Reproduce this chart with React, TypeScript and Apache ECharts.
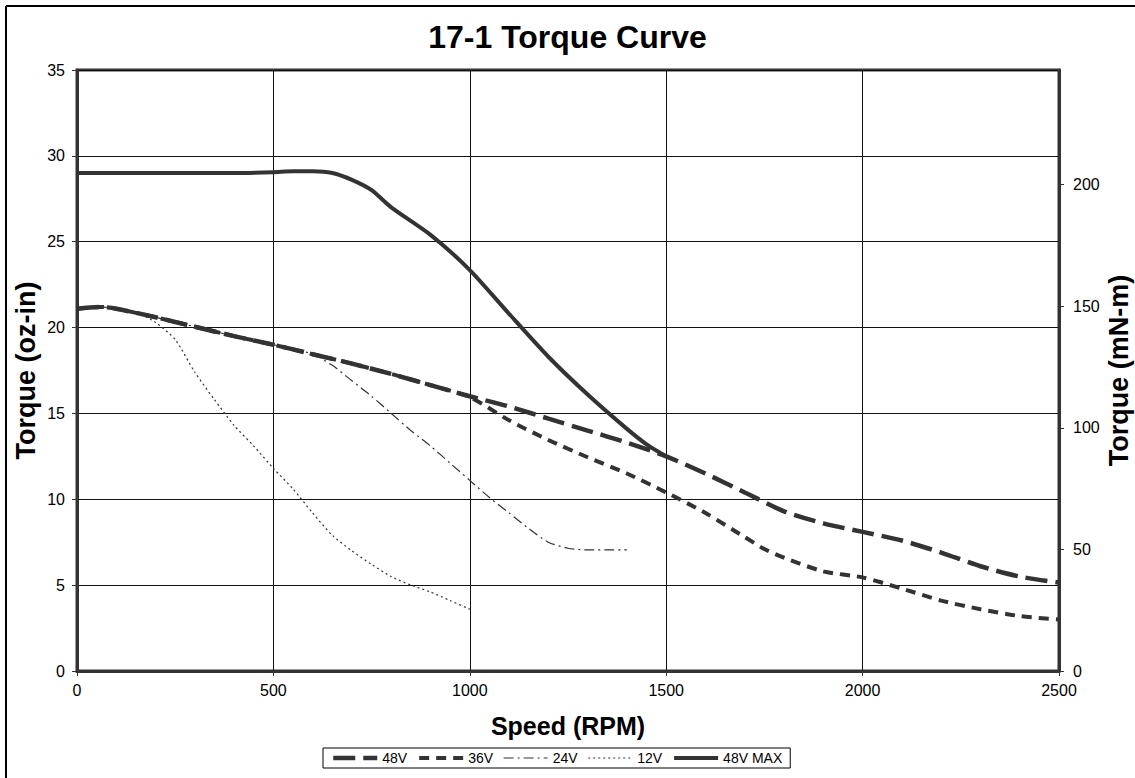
import React, { useEffect, useRef } from "react";
import * as echarts from "echarts";

const FONT = "'Liberation Sans', Arial, sans-serif";
const LINE_COLOR = "#333333";
const OZIN_TO_MNM = 7.0616;

const titleText = "17-1 Torque Curve";
const xTicks = [0, 500, 1000, 1500, 2000, 2500];

const seriesNames = ["48V", "36V", "24V", "12V", "48V MAX"];

const v48: number[][] = [
  [0, 21.1], [60, 21.2], [100, 21.1], [200, 20.6], [300, 20.05], [400, 19.5],
  [500, 19.0], [600, 18.45], [700, 17.9], [800, 17.3], [900, 16.65], [1000, 16.0],
  [1100, 15.4], [1200, 14.7], [1300, 14.0], [1400, 13.3], [1500, 12.5], [1600, 11.5],
  [1700, 10.4], [1800, 9.3], [1900, 8.6], [2000, 8.1], [2100, 7.6], [2200, 6.9],
  [2300, 6.1], [2400, 5.5], [2500, 5.15],
];

const v36: number[][] = [
  [0, 21.1], [60, 21.2], [100, 21.1], [200, 20.6], [300, 20.05], [400, 19.5],
  [500, 19.0], [600, 18.45], [700, 17.9], [800, 17.3], [900, 16.65], [1000, 15.95],
  [1100, 14.6], [1200, 13.45], [1300, 12.45], [1400, 11.5], [1500, 10.4], [1600, 9.2],
  [1700, 7.8], [1750, 7.1], [1800, 6.6], [1900, 5.8], [2000, 5.45], [2100, 4.8],
  [2200, 4.1], [2300, 3.6], [2400, 3.2], [2500, 3.0],
];

const v24: number[][] = [
  [0, 21.1], [60, 21.2], [100, 21.1], [200, 20.6], [300, 20.05], [400, 19.5],
  [500, 19.0], [600, 18.45], [650, 17.8], [700, 16.9], [750, 16.0], [800, 15.0],
  [850, 14.0], [900, 13.1], [950, 12.1], [1000, 11.1], [1050, 10.1], [1100, 9.2],
  [1150, 8.3], [1200, 7.5], [1250, 7.15], [1300, 7.05], [1350, 7.05], [1400, 7.05],
];

const v12: number[][] = [
  [0, 21.1], [60, 21.2], [100, 21.1], [150, 20.9], [200, 20.3], [250, 19.3],
  [300, 17.4], [350, 15.8], [400, 14.3], [450, 13.1], [500, 11.8], [550, 10.6],
  [600, 9.2], [650, 7.9], [700, 7.0], [750, 6.2], [800, 5.5], [850, 5.0],
  [900, 4.6], [950, 4.1], [1000, 3.6],
];

const v48max: number[][] = [
  [0, 29.0], [100, 29.0], [200, 29.0], [300, 29.0], [400, 29.0], [500, 29.05],
  [550, 29.1], [600, 29.1], [650, 29.0], [700, 28.6], [750, 28.0], [800, 27.0],
  [900, 25.4], [1000, 23.35], [1100, 20.8], [1200, 18.3], [1300, 16.1], [1400, 14.1],
  [1450, 13.2], [1500, 12.5],
];

export default function App() {
  const ref = useRef<HTMLDivElement>(null);

  useEffect(() => {
    if (!ref.current) return;
    const chart = echarts.init(ref.current, undefined, { renderer: "svg" });

    const mk = (name: string, data: number[][], width: number, type: any, z: number) => ({
      name,
      type: "line",
      data,
      smooth: 0.25,
      symbol: "none",
      showSymbol: false,
      yAxisIndex: 0,
      z,
      lineStyle: { color: LINE_COLOR, width, type },
      itemStyle: { color: LINE_COLOR },
      emphasis: { disabled: true },
    });

    const plainNum = (v: number) => String(Math.round(v));

    chart.setOption({
      animation: false,
      backgroundColor: "#ffffff",
      textStyle: { fontFamily: FONT },
      title: {
        text: titleText,
        left: "center",
        top: 16,
        textStyle: { fontSize: 32, fontWeight: "bold", color: "#000", fontFamily: FONT },
      },
      grid: {
        left: 77,
        right: 76,
        top: 70,
        bottom: 107,
        containLabel: false,
        outerBoundsMode: "none",
        show: true,
        borderColor: LINE_COLOR,
        borderWidth: 3,
        backgroundColor: "transparent",
      },
      legend: {
        data: seriesNames,
        left: 323,
        top: 748,
        orient: "horizontal",
        itemWidth: 44,
        itemHeight: 12,
        itemGap: 10,
        padding: [3, 8],
        borderColor: "#000",
        borderWidth: 1,
        itemStyle: { color: "rgba(0,0,0,0)", borderColor: "rgba(0,0,0,0)", borderWidth: 0, opacity: 0 },
        lineStyle: { width: "inherit" },
        textStyle: { fontSize: 14, color: "#000", fontFamily: FONT },
      },
      xAxis: {
        type: "value",
        min: xTicks[0],
        max: xTicks[xTicks.length - 1],
        interval: 500,
        name: "Speed (RPM)",
        nameLocation: "middle",
        nameGap: 42,
        nameMoveOverlap: false,
        nameTextStyle: { fontSize: 25, fontWeight: "bold", color: "#000", fontFamily: FONT },
        axisLine: { show: true, lineStyle: { color: LINE_COLOR, width: 3 } },
        axisTick: { show: true, length: 5, lineStyle: { color: LINE_COLOR, width: 1 } },
        axisLabel: { fontSize: 16, color: "#000", margin: 11, fontFamily: FONT, formatter: plainNum },
        splitLine: { show: true, lineStyle: { color: "#111", width: 1 } },
      },
      yAxis: [
        {
          type: "value",
          position: "left",
          min: 0,
          max: 35,
          interval: 5,
          name: "Torque (oz-in)",
          nameLocation: "middle",
          nameGap: 38,
          nameMoveOverlap: false,
          nameTextStyle: { fontSize: 27, fontWeight: "bold", color: "#000", fontFamily: FONT },
          axisLine: { show: true, lineStyle: { color: LINE_COLOR, width: 3 } },
          axisTick: { show: true, length: 5, lineStyle: { color: LINE_COLOR, width: 1 } },
          axisLabel: { fontSize: 16, color: "#000", margin: 12, fontFamily: FONT, formatter: plainNum },
          splitLine: { show: true, lineStyle: { color: "#111", width: 1 } },
        },
        {
          type: "value",
          position: "right",
          min: 0,
          max: 35 * OZIN_TO_MNM,
          interval: 50,
          name: "Torque (mN-m)",
          nameLocation: "middle",
          nameRotate: 90,
          nameGap: 46,
          nameMoveOverlap: false,
          nameTextStyle: { fontSize: 27, fontWeight: "bold", color: "#000", fontFamily: FONT },
          axisLine: { show: true, lineStyle: { color: LINE_COLOR, width: 3 } },
          axisTick: { show: true, length: 5, lineStyle: { color: LINE_COLOR, width: 1 } },
          axisLabel: { fontSize: 16, color: "#000", margin: 14, fontFamily: FONT, showMaxLabel: false, formatter: plainNum },
          splitLine: { show: false },
        },
      ],
      series: [
        mk("48V", v48, 4.5, [22, 8], 3),
        mk("36V", v36, 4, [10, 7], 2),
        mk("24V", v24, 1.2, [10, 4, 2, 4], 4),
        mk("12V", v12, 1.2, [2, 3], 4),
        mk("48V MAX", v48max, 4, "solid", 5),
      ],
      graphic: [
        { type: "line", shape: { x1: 6, y1: 6, x2: 6, y2: 778 }, style: { stroke: "#000", lineWidth: 2 } },
        { type: "line", shape: { x1: 6, y1: 6, x2: 1135, y2: 6 }, style: { stroke: "#000", lineWidth: 2 } },
      ],
    });

    return () => chart.dispose();
  }, []);

  return (
    <div
      ref={ref}
      style={{ position: "fixed", left: 0, top: 0, width: 1135, height: 778, background: "#fff" }}
    />
  );
}
